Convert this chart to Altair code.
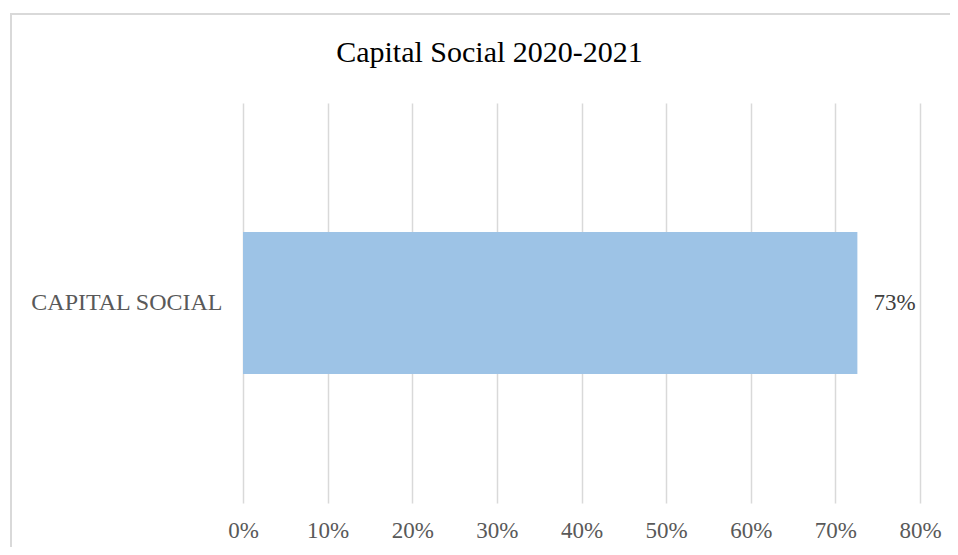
import altair as alt
import pandas as pd

categories = ["CAPITAL SOCIAL"]
values = [0.726]
tick_values = [0, 0.1, 0.2, 0.3, 0.4, 0.5, 0.6, 0.7, 0.8]

df = pd.DataFrame({"cat": categories, "val": values})

FONT = "Liberation Serif"
W, H = 677, 400

base = alt.Chart(df)

frame = base.mark_rect(fillOpacity=0, stroke="#d9d9d9", strokeWidth=2).encode(
    x=alt.value(-232), x2=alt.value(900), y=alt.value(-89), y2=alt.value(600)
)

y_enc = alt.Y(
    "cat:N",
    title=None,
    scale=alt.Scale(paddingInner=0.476, paddingOuter=0.476),
    axis=alt.Axis(domain=False, ticks=False, grid=False, labelPadding=21,
                  labelFontSize=24, labelFont=FONT, labelColor="#595959",
                  labelLimit=400),
)
x_enc = alt.X(
    "val:Q",
    title=None,
    scale=alt.Scale(domain=[0, 0.8], nice=False),
    axis=alt.Axis(values=tick_values, format=".0%", domain=False, ticks=False,
                  grid=True, gridColor="#d9d9d9", gridWidth=1.5,
                  labelPadding=16, labelFontSize=23, labelFont=FONT,
                  labelColor="#595959", labelFlush=False, labelOverlap=False),
)

bars = base.mark_bar(color="#9dc3e6").encode(x=x_enc, y=y_enc)
labels = base.mark_text(align="left", baseline="middle", dx=16, fontSize=23,
                        font=FONT, color="#404040").encode(
    x="val:Q", y="cat:N", text=alt.Text("val:Q", format=".0%")
)

chart = alt.layer(frame, bars, labels).properties(
    width=W,
    height=H,
    autosize=alt.AutoSizeParams(type="none"),
    padding={"left": 235, "top": 95, "right": 30, "bottom": 44},
    background="white",
    title=alt.TitleParams(
        "Capital Social 2020-2021",
        font=FONT, fontSize=30, fontWeight="normal", color="#000000",
        anchor="middle", dx=-92, dy=79, offset=0, baseline="alphabetic",
    ),
).configure_view(stroke=None)

chart.save("out.html", embed_options={"renderer": "svg", "actions": False})
